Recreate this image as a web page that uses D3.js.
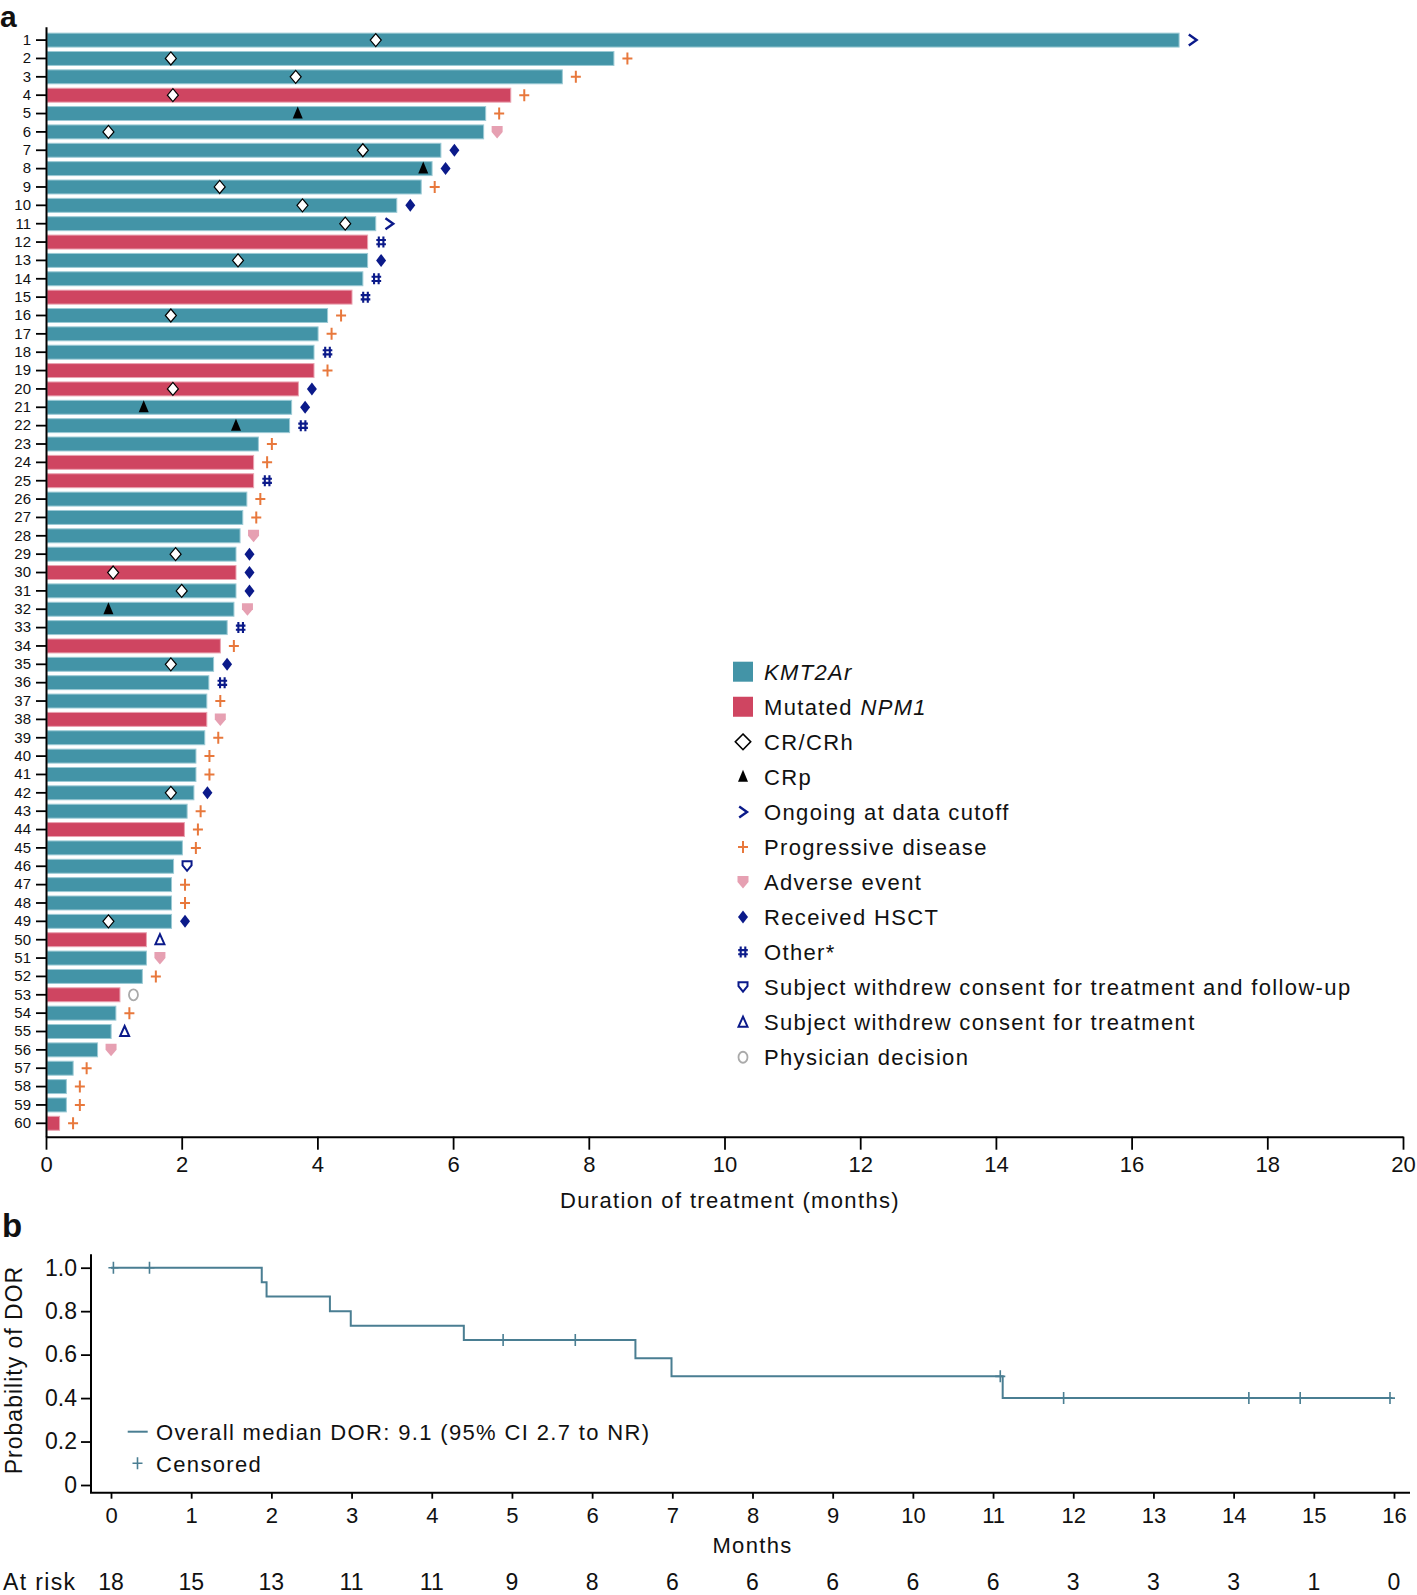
<!DOCTYPE html>
<html>
<head>
<meta charset="utf-8">
<title>swimmer plot and DOR</title>
<script src="https://cdn.jsdelivr.net/npm/d3@7"></script>
<style>
  body { margin: 0; background: #fff; }
  text { font-family: "Liberation Sans", Arial, sans-serif; fill: #111; }
  .lbl { letter-spacing: 1.35px; }
</style>
</head>
<body>
<script>
// ---- panel a data ----
var patients = d3.range(1, 61);
var duration = [16.70, 8.37, 7.61, 6.85, 6.48, 6.45, 5.82, 5.69, 5.53, 5.17,
                4.86, 4.74, 4.74, 4.67, 4.51, 4.15, 4.01, 3.95, 3.95, 3.72,
                3.62, 3.59, 3.13, 3.06, 3.06, 2.96, 2.90, 2.86, 2.80, 2.80,
                2.80, 2.77, 2.67, 2.57, 2.47, 2.40, 2.37, 2.37, 2.34, 2.21,
                2.21, 2.18, 2.08, 2.04, 2.01, 1.88, 1.85, 1.85, 1.85, 1.48,
                1.48, 1.42, 1.09, 1.03, 0.96, 0.76, 0.40, 0.30, 0.30, 0.20];
var npm1Patients = [4, 12, 15, 19, 20, 24, 25, 30, 34, 38, 44, 50, 53, 60];
var endReason = ["ongoing", "pd", "pd", "pd", "pd", "ae", "hsct", "hsct", "pd", "hsct",
                 "ongoing", "other", "hsct", "other", "other", "pd", "pd", "other", "pd", "hsct",
                 "hsct", "other", "pd", "pd", "other", "pd", "pd", "ae", "hsct", "hsct",
                 "hsct", "ae", "other", "pd", "hsct", "other", "pd", "ae", "pd", "pd",
                 "pd", "hsct", "pd", "pd", "pd", "wdfu", "pd", "pd", "hsct", "wdtx",
                 "ae", "pd", "md", "pd", "wdtx", "ae", "pd", "pd", "pd", "pd"];
var responsePatient = [1, 2, 3, 4, 5, 6, 7, 8, 9, 10, 11, 13, 16, 20, 21, 22, 29, 30, 31, 32, 35, 42, 49];
var responseMonth = [4.86, 1.84, 3.68, 1.87, 3.71, 0.92, 4.67, 5.56, 2.56, 3.78, 4.41, 2.83,
                     1.84, 1.87, 1.44, 2.80, 1.91, 0.99, 2.00, 0.92, 1.84, 1.84, 0.92];
var responseType = ["cr", "cr", "cr", "cr", "crp", "cr", "cr", "crp", "cr", "cr", "cr", "cr",
                    "cr", "cr", "crp", "crp", "cr", "cr", "cr", "crp", "cr", "cr", "cr"];
var durTicks = [0, 2, 4, 6, 8, 10, 12, 14, 16, 18, 20];

var legendKeys = ["kmt", "npm", "cr", "crp", "ongoing", "pd", "ae", "hsct", "other", "wdfu", "wdtx", "md"];
var legendLabels = ["KMT2Ar", "Mutated NPM1", "CR/CRh", "CRp", "Ongoing at data cutoff",
                    "Progressive disease", "Adverse event", "Received HSCT", "Other*",
                    "Subject withdrew consent for treatment and follow-up",
                    "Subject withdrew consent for treatment", "Physician decision"];

// ---- panel b data ----
var kmTime = [0, 1.88, 1.94, 2.73, 2.99, 4.40, 6.54, 6.99, 11.12, 15.98];
var kmSurv = [1.0, 0.933, 0.867, 0.800, 0.733, 0.667, 0.583, 0.500, 0.400, 0.400];
var censorTime = [0.03, 0.48, 4.89, 5.79, 11.09, 11.88, 14.19, 14.83, 15.95];
var censorSurv = [1.0, 1.0, 0.667, 0.667, 0.5, 0.4, 0.4, 0.4, 0.4];
var riskMonths = d3.range(0, 17);
var atRisk = [18, 15, 13, 11, 11, 9, 8, 6, 6, 6, 6, 6, 3, 3, 3, 1, 0];
var probTicks = [0, 0.2, 0.4, 0.6, 0.8, 1.0];

var teal = "#4394a7", red = "#cf4561", navy = "#0b1a8a", orange = "#e8783c",
    pink = "#e6a0b2", grey = "#aaaaaa", kmCol = "#4a7e92";

var svg = d3.select("body").append("svg")
    .attr("width", 1417).attr("height", 1595);

// marker shapes
function markerPath(t) {
  switch (t) {
    case "cr": return "M0,-6.5L5.5,0L0,6.5L-5.5,0Z";
    case "crp": return "M0,-7L5,5L-5,5Z";
    case "hsct": return "M0,-6.5L5,0L0,6.5L-5,0Z";
    case "pd": return "M-5,0H5M0,-6V6";
    case "ae": return "M-5.5,-6H5.5V0L0,6.5L-5.5,0Z";
    case "other": return "M-2.3,-5.5V5.5M2.3,-5.5V5.5M-4.8,-2H4.8M-4.8,2.2H4.8";
    case "ongoing": return "M-3.8,-5.5L4,0L-3.8,5.5";
    case "wdfu": return "M-4.5,-5H4.5V-1L0,4.5L-4.5,-1Z";
    case "wdtx": return "M0,-5.5L4.5,4.5H-4.5Z";
    case "md": return "M0,-5.5A4.5,5.5 0 1,1 0,5.5A4.5,5.5 0 1,1 0,-5.5Z";
  }
}
function styleMarker(sel, t) {
  var s = {
    cr: ["#fff", "#000", 1.2], crp: ["#000", "none", 0], hsct: [navy, "none", 0],
    pd: ["none", orange, 2], ae: [pink, "none", 0], other: ["none", navy, 2.1],
    ongoing: ["none", navy, 2.4], wdfu: ["#fff", navy, 2], wdtx: ["#fff", navy, 2],
    md: ["none", grey, 1.8]
  }[t];
  sel.attr("fill", s[0]).attr("stroke", s[1]).attr("stroke-width", s[2])
     .attr("stroke-linejoin", "miter");
}

// ===== panel a =====
var x = d3.scaleLinear().domain([0, 20]).range([46, 1403]);
var y = d3.scaleBand().domain(patients).range([26.7, 1136.7])
    .paddingInner(0.24).paddingOuter(0.35);

svg.append("g").selectAll("rect").data(patients).join("rect")
    .attr("x", x(0) + 1)
    .attr("y", function(d) { return y(d); })
    .attr("width", function(d) { return x(duration[d - 1]) - x(0) - 1; })
    .attr("height", y.bandwidth())
    .attr("fill", function(d) { return npm1Patients.indexOf(d) >= 0 ? red : teal; })
    .attr("stroke", function(d) { return npm1Patients.indexOf(d) >= 0 ? "#eaa3b1" : "#9ccad5"; })
    .attr("stroke-width", 1);

// end-of-treatment markers
svg.append("g").selectAll("path").data(patients).join("path")
    .attr("transform", function(d) {
      return "translate(" + (x(duration[d - 1]) + 13.5) + "," + (y(d) + y.bandwidth() / 2) + ")";
    })
    .attr("d", function(d) { return markerPath(endReason[d - 1]); })
    .each(function(d) { styleMarker(d3.select(this), endReason[d - 1]); });

// response markers
svg.append("g").selectAll("path").data(responsePatient).join("path")
    .attr("transform", function(d, i) {
      return "translate(" + x(responseMonth[i]) + "," + (y(d) + y.bandwidth() / 2) + ")";
    })
    .attr("d", function(d, i) { return markerPath(responseType[i]); })
    .each(function(d, i) { styleMarker(d3.select(this), responseType[i]); });

var yAx = svg.append("g").attr("transform", "translate(46,0)")
    .call(d3.axisLeft(y).tickSize(10).tickSizeOuter(0).tickPadding(5));
yAx.selectAll("text").style("font-size", "15px").attr("fill", "#222");

var xAx = svg.append("g").attr("transform", "translate(0,1136.7)")
    .call(d3.axisBottom(x).tickValues(durTicks).tickSize(13).tickSizeOuter(0).tickPadding(7)
      .tickFormat(d3.format("d")));
xAx.selectAll("text").style("font-size", "22px");

[yAx, xAx].forEach(function(a) {
  a.select(".domain").attr("stroke-width", 2);
  a.selectAll(".tick line").attr("stroke-width", 1.8);
});

svg.append("text").attr("class", "lbl").attr("x", 730).attr("y", 1208).attr("text-anchor", "middle")
    .style("font-size", "22px").text("Duration of treatment (months)");

svg.append("text").attr("x", 0).attr("y", 27).style("font-size", "30px")
    .style("font-weight", "bold").attr("fill", "#000").text("a");

// legend
var leg = svg.append("g").selectAll("g").data(legendKeys).join("g")
    .attr("transform", function(d, i) { return "translate(743," + (671.7 + i * 35.05) + ")"; });
leg.each(function(k, i) {
  var g = d3.select(this);
  if (k === "kmt" || k === "npm") {
    g.append("rect").attr("x", -10).attr("y", -10).attr("width", 20).attr("height", 20)
      .attr("fill", k === "kmt" ? teal : red);
  } else {
    var p = g.append("path").attr("d", markerPath(k));
    styleMarker(p, k);
    if (k === "cr") p.attr("transform", "scale(1.4,1.2)").attr("stroke-width", 1.2);
  }
  var t = g.append("text").attr("class", "lbl").attr("x", 21).attr("y", 8).style("font-size", "22px");
  if (k === "kmt") {
    t.append("tspan").style("font-style", "italic").text("KMT2Ar");
  } else if (k === "npm") {
    t.append("tspan").text("Mutated ");
    t.append("tspan").style("font-style", "italic").text("NPM1");
  } else {
    t.text(legendLabels[i]);
  }
});

// ===== panel b =====
var kx = d3.scaleLinear().domain([0, 16]).range([111, 1394]);
var ky = d3.scaleLinear().domain([0, 1]).range([1485, 1267.7]);

svg.append("text").attr("x", 2).attr("y", 1237).style("font-size", "33px")
    .style("font-weight", "bold").attr("fill", "#000").text("b");

var kyAx = svg.append("g").attr("transform", "translate(91,0)")
    .call(d3.axisLeft(ky).tickValues(probTicks).tickSize(10).tickPadding(4)
      .tickFormat(function(d) { return d === 0 ? "0" : d3.format(".1f")(d); }));
kyAx.select(".domain").remove();
kyAx.selectAll("text").style("font-size", "23px");

var kxAx = svg.append("g").attr("transform", "translate(0,1492.7)")
    .call(d3.axisBottom(kx).tickValues(riskMonths).tickSize(6).tickPadding(9)
      .tickFormat(d3.format("d")));
kxAx.select(".domain").remove();
kxAx.selectAll("text").style("font-size", "22px");
[kyAx, kxAx].forEach(function(a) { a.selectAll(".tick line").attr("stroke-width", 1.8); });

svg.append("path").attr("fill", "none").attr("stroke", "#000").attr("stroke-width", 2)
    .attr("d", "M91,1254.3V1492.7H1410");

var kmLine = d3.line()
    .x(function(d, i) { return kx(kmTime[i]); })
    .y(function(d, i) { return ky(kmSurv[i]); })
    .curve(d3.curveStepAfter);
svg.append("path").datum(kmTime).attr("d", kmLine)
    .attr("fill", "none").attr("stroke", kmCol).attr("stroke-width", 2);

svg.append("g").selectAll("path").data(censorTime).join("path")
    .attr("transform", function(d, i) { return "translate(" + kx(d) + "," + ky(censorSurv[i]) + ")"; })
    .attr("d", "M-5,0H5M0,-6V6")
    .attr("stroke", kmCol).attr("stroke-width", 1.6);

svg.append("text").attr("transform", "translate(22,1370) rotate(-90)")
    .attr("text-anchor", "middle").style("font-size", "23px").style("letter-spacing", "1px")
    .text("Probability of DOR");

svg.append("text").attr("class", "lbl").attr("x", kx(8)).attr("y", 1552.7).attr("text-anchor", "middle")
    .style("font-size", "22px").text("Months");

// KM legend
svg.append("path").attr("d", "M127.7,1431.7H147.7").attr("stroke", kmCol).attr("stroke-width", 2);
svg.append("text").attr("class", "lbl").attr("x", 156).attr("y", 1440).style("font-size", "22px")
    .text("Overall median DOR: 9.1 (95% CI 2.7 to NR)");
svg.append("path").attr("d", "M132.5,1463.3H142.5M137.5,1457.3V1469.3")
    .attr("stroke", kmCol).attr("stroke-width", 1.6);
svg.append("text").attr("class", "lbl").attr("x", 156).attr("y", 1471.7).style("font-size", "22px").text("Censored");

// at risk row
svg.append("text").attr("class", "lbl").attr("x", 3).attr("y", 1590).style("font-size", "23px").text("At risk");
svg.append("g").selectAll("text").data(riskMonths).join("text")
    .attr("x", function(d) { return kx(d); }).attr("y", 1590)
    .attr("text-anchor", "middle").style("font-size", "23px")
    .text(function(d, i) { return atRisk[i]; });
</script>
</body>
</html>
